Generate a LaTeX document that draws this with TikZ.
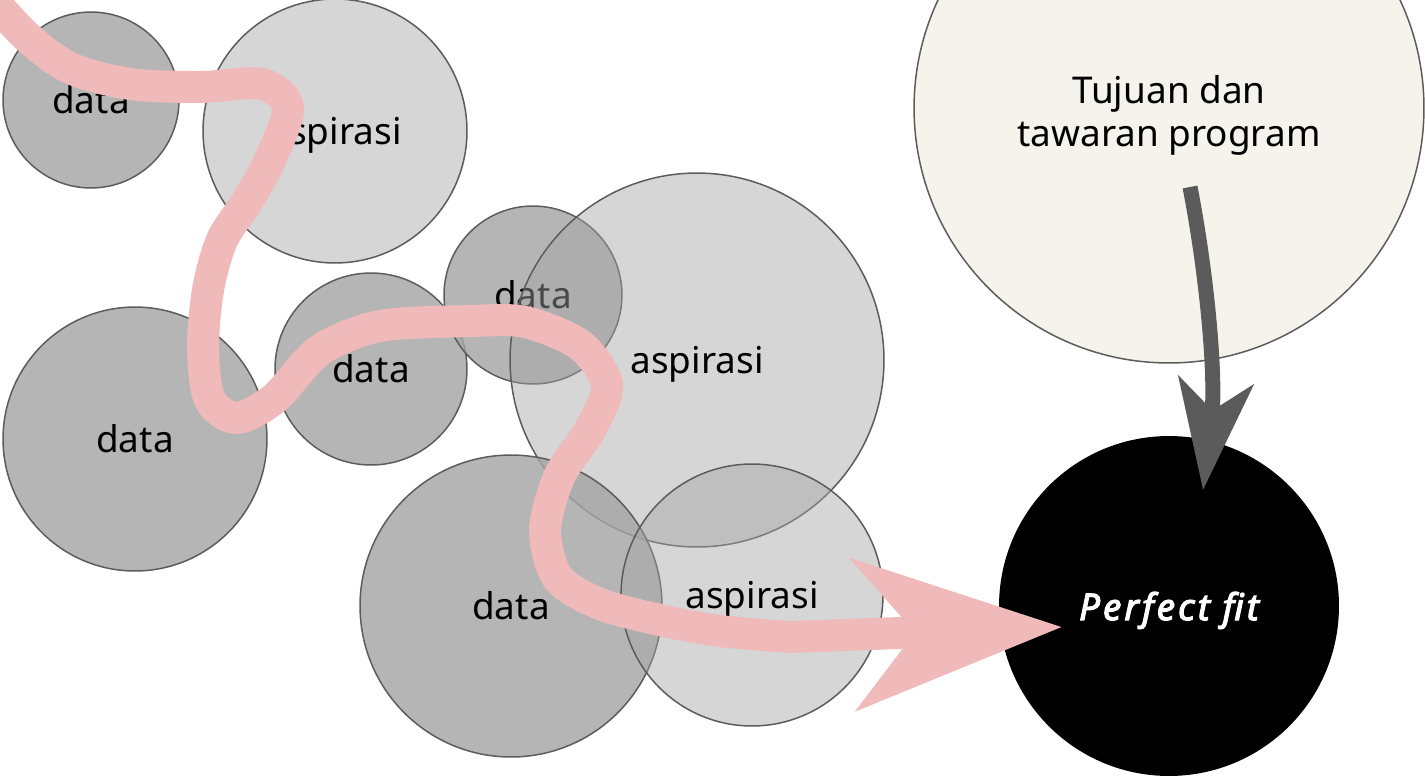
\documentclass[tikz,border=0pt]{standalone}
\usepackage{fontspec}
\setmainfont{Noto Sans}
\newfontfamily\fitfont{Noto Sans}[FakeBold=3, LetterSpace=8]
\usepackage{tikz}
\usetikzlibrary{arrows.meta}
\definecolor{rim}{HTML}{5C5C5C}
\definecolor{datafill}{HTML}{A5A5A5}
\definecolor{wishfill}{HTML}{A3A3A3}
\definecolor{cream}{HTML}{F6F3EC}
\definecolor{blush}{HTML}{F0BABA}
\definecolor{pullgray}{HTML}{5B5B5B}
\newcommand{\bubfont}{\fontsize{21}{24.5}\selectfont}
\tikzstyle{datum} = [circle, draw=rim, line width=0.03cm, fill=datafill, fill opacity=0.82, text opacity=1, inner sep=0pt, font=\bubfont]
\tikzstyle{wish} = [circle, draw=rim, line width=0.03cm, fill=wishfill, fill opacity=0.45, text opacity=1, inner sep=0pt, text depth=0pt, font=\bubfont]
\tikzstyle{goal} = [circle, draw=rim, line width=0.03cm, fill=cream, inner sep=0pt]
\tikzstyle{goaltext} = [align=center, font=\bubfont]
\tikzstyle{target} = [circle, fill=black, text=white, inner sep=0pt, text depth=0pt, font=\fitfont\bubfont\itshape]
\tikzstyle{trail} = [draw=blush, line width=0.64cm, -{Stealth[length=4.14cm, width=3cm, inset=1.2cm]}]
\tikzstyle{pull} = [draw=pullgray, line width=0.3cm, -{Stealth[length=2.2cm, width=1.5cm, inset=0.6cm]}]

\begin{document}
\begin{tikzpicture}[x=0.02cm, y=-0.02cm]
	\useasboundingbox (0,0) rectangle (1425,778);
	\clip (0,0) rectangle (1425,778);
	\node[datum, minimum size=3.52cm] (d1) at (91,100) {data};
	\node[wish, minimum size=5.28cm] (a1) at (335,131) {aspirasi};
	\node[datum, minimum size=5.28cm] (d2) at (135,439) {data};
	\node[datum, minimum size=3.84cm] (d3) at (371,369) {data};
	\node[datum, minimum size=3.56cm] (d4) at (533,295) {data};
	\node[wish, minimum size=7.48cm] (a2) at (697,360) {aspirasi};
	\node[datum, minimum size=6.04cm] (d5) at (511,606) {data};
	\node[wish, minimum size=5.24cm] (a3) at (752,595) {aspirasi};
	\node[goal, minimum size=10.2cm] (g) at (1169,108) {};
	\node[goaltext] (gl) at (1169,115) {Tujuan dan\\tawaran program};
	\node[target, minimum size=6.8cm] (p) at (1169,606) {Perfect fit};
	\coordinate (gs) at (1190,187);
	\coordinate (gt) at (1203,490);
	\draw[pull] (gs) .. controls (1208,280) and (1216,380) .. (gt);
% 	the path through the bubbles
	\coordinate (ps) at (-25,-20);
	\coordinate (pt) at (1062,627);
	\draw[trail] plot[smooth] coordinates {(ps) (25,35) (70,68) (130,84) (200,87) (262,84) (288,108) (270,160) (248,200) (222,240) (208,290) (203,350) (210,400) (237,418) (275,398) (320,350) (380,326) (470,321) (525,322) (580,345) (607,385) (590,430) (560,475) (545,530) (558,578) (600,604) (660,620) (720,631) (790,637)} -- (pt);
\end{tikzpicture}
\end{document}
